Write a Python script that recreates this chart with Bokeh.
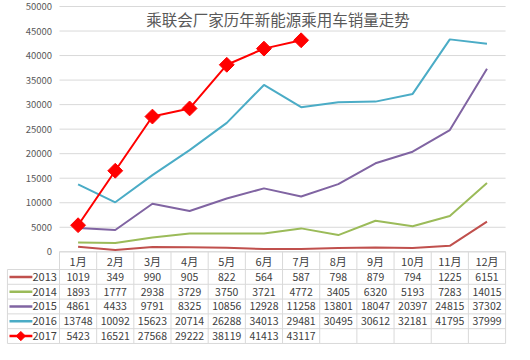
from bokeh.plotting import figure
from bokeh.models import Range1d
from bokeh.core.properties import value
from bokeh.embed import file_html
from bokeh.resources import INLINE

title_text = "乘联会厂家历年新能源乘用车销量走势"
months = ["1月", "2月", "3月", "4月", "5月", "6月", "7月", "8月", "9月", "10月", "11月", "12月"]
years = ["2013", "2014", "2015", "2016", "2017"]
# values printed in the data table
s2013 = [1019, 349, 990, 905, 822, 564, 587, 798, 879, 794, 1225, 6151]
s2014 = [1893, 1777, 2938, 3729, 3750, 3721, 4772, 3405, 6320, 5193, 7283, 14015]
s2015 = [4861, 4433, 9791, 8325, 10856, 12928, 11258, 13801, 18047, 20397, 24815, 37302]
s2016 = [13748, 10092, 15623, 20714, 26288, 34013, 29481, 30495, 30612, 32181, 41795, 37999]
s2017 = [5423, 16521, 27568, 29222, 38119, 41413, 43117]
# 2016 line as drawn in the picture (Nov/Dec points sit higher than the table values)
s2016_line = [13748, 10092, 15623, 20714, 26288, 34013, 29481, 30495, 30612, 32181, 43300, 42400]
y_ticks = [0, 5000, 10000, 15000, 20000, 25000, 30000, 35000, 40000, 45000, 50000]

table_series = [s2013, s2014, s2015, s2016, s2017]
line_series = [s2013, s2014, s2015, s2016_line, s2017]
colors = ["#C0504D", "#9BBB59", "#8064A2", "#4BACC6", "#FF0000"]

FONT = value("Noto Sans CJK SC")
TXT = "#404040"
GRID = "#D9D9D9"

p = figure(width=514, height=344, x_range=Range1d(-1.587, 12.24),
           y_range=Range1d(-18895, 51223), output_backend="svg",
           toolbar_location=None, x_axis_type=None, y_axis_type=None,
           min_border_left=0, min_border_right=0, min_border_top=0, min_border_bottom=0)
p.outline_line_color = None
p.grid.visible = False
p.extra_y_ranges = {"table": Range1d(start=5.07, end=-18.18)}

n = len(months)
# horizontal gridlines
p.segment(x0=[0] * len(y_ticks), x1=[n] * len(y_ticks), y0=y_ticks, y1=y_ticks,
          line_color=GRID, line_width=1)
# y tick labels
p.text(x=[-0.2] * len(y_ticks), y=y_ticks, text=[str(t) for t in y_ticks],
       text_font=FONT, text_font_size="9.5px", text_color="#595959",
       text_align="right", text_baseline="middle")

# title
p.text(x=[5.88], y=[47400], text=[title_text], text_font=FONT,
       text_font_size="15.5px", text_color="#595959",
       text_align="center", text_baseline="middle")

# lines
for vals, c in zip(line_series, colors):
    xs = [i + 0.5 for i in range(len(vals))]
    p.line(xs, vals, line_color=c, line_width=2)
xs17 = [i + 0.5 for i in range(len(s2017))]
p.scatter(xs17, s2017, marker="square", angle=0.785, size=10.5,
          fill_color="#FF0000", line_color="#FF0000")

# table grid
rows = len(years)
p.segment(x0=[0], x1=[n], y0=[0], y1=[0], line_color=GRID, line_width=1)
vx = list(range(0, n + 1))
p.segment(x0=vx, x1=vx, y0=[-1.2] * len(vx), y1=[rows] * len(vx),
          line_color=GRID, line_width=1, y_range_name="table")
p.segment(x0=[-1.4], x1=[-1.4], y0=[0], y1=[rows], line_color=GRID,
          line_width=1, y_range_name="table")
hy = list(range(0, rows + 1))
p.segment(x0=[-1.4] * len(hy), x1=[n] * len(hy), y0=hy, y1=hy,
          line_color=GRID, line_width=1, y_range_name="table")

# header text
p.text(x=[i + 0.5 for i in range(n)], y=[-0.55] * n, text=months,
       text_font=FONT, text_font_size="11px", text_color=TXT,
       text_align="center", text_baseline="middle", y_range_name="table")

# cells
cx, cy, ct = [], [], []
for r, vals in enumerate(table_series):
    for i, v in enumerate(vals):
        cx.append(i + 0.5)
        cy.append(r + 0.5)
        ct.append(str(v))
p.text(x=cx, y=cy, text=ct, text_font=FONT, text_font_size="10.5px",
       text_color=TXT, text_align="center", text_baseline="middle",
       y_range_name="table")

# legend column
ry = [r + 0.5 for r in range(rows)]
p.text(x=[-0.07] * rows, y=ry, text=years, text_font=FONT, text_font_size="11px",
       text_color=TXT, text_align="right", text_baseline="middle",
       y_range_name="table")
p.segment(x0=[-1.345] * rows, x1=[-0.73] * rows, y0=ry, y1=ry,
          line_color=colors, line_width=2.5, y_range_name="table")
p.scatter([-1.04], [ry[-1]], marker="square", angle=0.785, size=6.5,
          fill_color="#FF0000", line_color="#FF0000", y_range_name="table")

open("out.html", "w").write(file_html(p, INLINE))
